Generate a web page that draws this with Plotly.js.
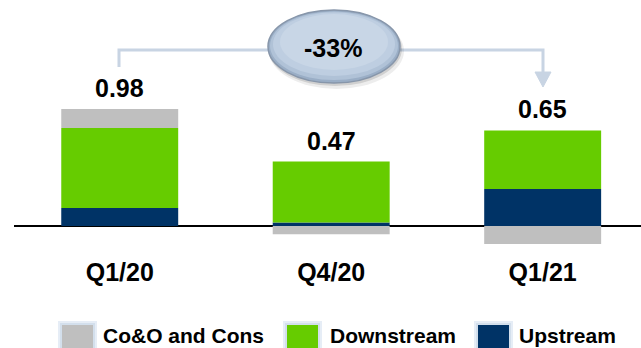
<!DOCTYPE html>
<html>
<head>
<meta charset="utf-8">
<script src="https://cdn.plot.ly/plotly-3.0.1.min.js"></script>
<style>html,body{margin:0;padding:0;background:#fff;}#chart{width:641px;height:348px;}</style>
</head>
<body>
<div id="chart"></div>
<script>
// ---- data ----
const categories = ['Q1/20', 'Q4/20', 'Q1/21'];
const upstream = [0.15, 0.03, 0.31];
const downstream = [0.67, 0.51, 0.49];
const coAndCons = [0.16, -0.07, -0.15];
const totalLabels = ['0.98', '0.47', '0.65'];
const seriesNames = ['Co&O and Cons', 'Downstream', 'Upstream'];
const changeLabel = '-33%';

// ---- styles ----
const colors = { coAndCons: '#BFBFBF', downstream: '#66CC00', upstream: '#003366' };
const FONT = 'Arial, "Liberation Sans", sans-serif';
const W = 641, H = 348, ML = 14, MR = 0, MT = 0, MB = 98;
const PW = W - ML - MR, PH = H - MT - MB;
const X = px => (px - ML) / PW;
const Y = py => (H - MB - py) / PH;

const traces = [
  { name: seriesNames[2], x: categories, y: upstream, type: 'bar', marker: { color: colors.upstream }, hoverinfo: 'skip' },
  { name: seriesNames[1], x: categories, y: downstream, type: 'bar', marker: { color: colors.downstream }, hoverinfo: 'skip' },
  { name: seriesNames[0], x: categories, y: coAndCons, type: 'bar', marker: { color: colors.coAndCons }, hoverinfo: 'skip' }
];

// positive stack tops for total labels
const posTop = categories.map((c, i) => [upstream[i], downstream[i], coAndCons[i]].filter(v => v > 0).reduce((a, b) => a + b, 0));

const annotations = categories.map((c, i) => ({
  x: c, y: posTop[i], xref: 'x', yref: 'y', text: totalLabels[i], showarrow: false,
  yanchor: 'bottom', yshift: 5, font: { family: FONT, size: 25, color: '#000', weight: 'bold' }
}));

annotations.push({
  x: X(333), y: Y(48), xref: 'paper', yref: 'paper', text: changeLabel, showarrow: false,
  xanchor: 'center', yanchor: 'middle', font: { family: FONT, size: 25, color: '#000', weight: 'bold' }
});

// custom legend
const legendItems = [
  { name: seriesNames[0], color: colors.coAndCons, sx: 62, tx: 101 },
  { name: seriesNames[1], color: colors.downstream, sx: 287, tx: 328 },
  { name: seriesNames[2], color: colors.upstream, sx: 478, tx: 517 }
];
legendItems.forEach(it => annotations.push({
  x: X(it.tx), y: Y(335.5), xref: 'paper', yref: 'paper', text: it.name, showarrow: false,
  xanchor: 'left', yanchor: 'middle', font: { family: FONT, size: 21, color: '#000', weight: 'bold' }
}));

const lineCol = '#C8D4E3';
const shapes = [
  // bracket
  { type: 'path', xref: 'paper', yref: 'paper', path: `M${X(119)},${Y(67)} L${X(119)},${Y(50)} L${X(272)},${Y(50)}`, line: { color: lineCol, width: 3 } },
  { type: 'path', xref: 'paper', yref: 'paper', path: `M${X(396)},${Y(50)} L${X(543)},${Y(50)} L${X(543)},${Y(74)}`, line: { color: lineCol, width: 3 } },
  { type: 'path', xref: 'paper', yref: 'paper', path: `M${X(535)},${Y(72)} L${X(551)},${Y(72)} L${X(543)},${Y(87)} Z`, fillcolor: lineCol, line: { color: lineCol, width: 1 } },
  // ellipse shadow
  { type: 'circle', xref: 'paper', yref: 'paper', x0: X(269), x1: X(404), y0: Y(13), y1: Y(89), fillcolor: 'rgba(0,0,0,0.07)', line: { width: 0 } },
  { type: 'circle', xref: 'paper', yref: 'paper', x0: X(268), x1: X(402), y0: Y(11), y1: Y(86), fillcolor: 'rgba(0,0,0,0.12)', line: { width: 0 } },
  // ellipse body
  { type: 'circle', xref: 'paper', yref: 'paper', x0: X(268), x1: X(400), y0: Y(10), y1: Y(83), fillcolor: '#9AAEC6', line: { color: '#8796AA', width: 1.5 } },
  { type: 'circle', xref: 'paper', yref: 'paper', x0: X(270), x1: X(398), y0: Y(11.5), y1: Y(80), fillcolor: '#B0C2D7', line: { width: 0 } },
  { type: 'circle', xref: 'paper', yref: 'paper', x0: X(273), x1: X(395), y0: Y(12.5), y1: Y(76), fillcolor: '#BECEE1', line: { width: 0 } },
  { type: 'circle', xref: 'paper', yref: 'paper', x0: X(280), x1: X(388), y0: Y(14), y1: Y(70), fillcolor: '#C8D6E6', line: { width: 0 } }
];
// legend swatches with glow
legendItems.forEach(it => {
  shapes.push({ type: 'rect', xref: 'paper', yref: 'paper', x0: X(it.sx - 4), x1: X(it.sx + 35), y0: Y(321), y1: Y(362), fillcolor: '#E6EDF6', line: { width: 0 } });
  shapes.push({ type: 'rect', xref: 'paper', yref: 'paper', x0: X(it.sx - 2), x1: X(it.sx + 33), y0: Y(323), y1: Y(360), fillcolor: '#D3DFEC', line: { width: 0 } });
  shapes.push({ type: 'rect', xref: 'paper', yref: 'paper', x0: X(it.sx), x1: X(it.sx + 31), y0: Y(325), y1: Y(358), fillcolor: it.color, line: { width: 0 } });
});

const layout = {
  width: W, height: H,
  margin: { l: ML, r: MR, t: MT, b: MB, pad: 0 },
  paper_bgcolor: '#fff', plot_bgcolor: '#fff',
  barmode: 'relative', bargap: 0.447,
  showlegend: false,
  xaxis: {
    type: 'category', range: [-0.5, 2.465], showgrid: false, showline: false, zeroline: false,
    ticks: '', ticklabelstandoff: 5, fixedrange: true,
    tickfont: { family: FONT, size: 25, color: '#000', weight: 'bold' }
  },
  yaxis: {
    range: [-0.201, 1.893], showgrid: false, showticklabels: false, ticks: '',
    zeroline: true, zerolinecolor: '#000', zerolinewidth: 1.6, fixedrange: true
  },
  shapes: shapes,
  annotations: annotations
};

Plotly.newPlot('chart', traces, layout, { displayModeBar: false, staticPlot: true });
</script>
</body>
</html>
